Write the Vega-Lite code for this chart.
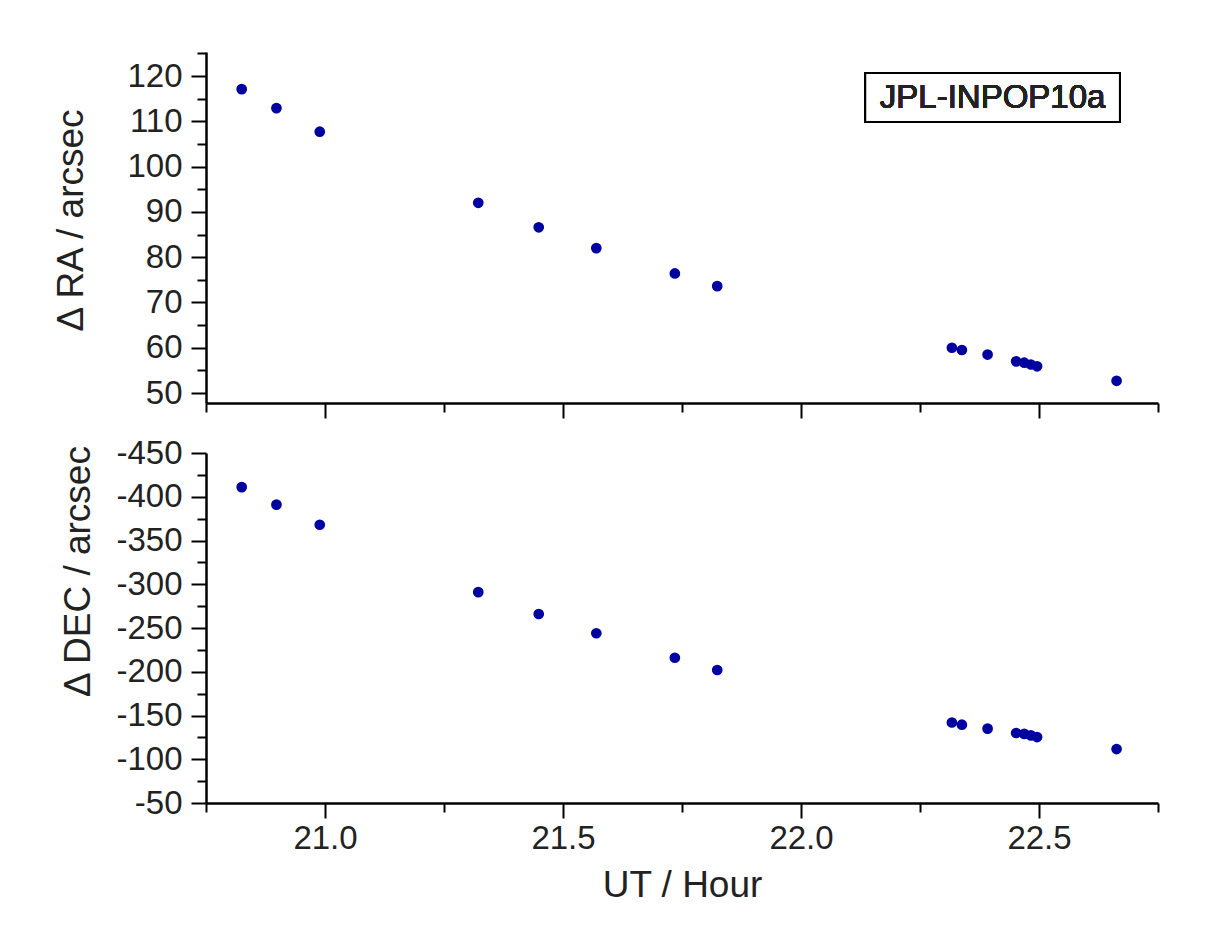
{
  "$schema": "https://vega.github.io/schema/vega-lite/v6.json",
  "background": "white",
  "padding": {"left": 52, "top": 52, "right": 10, "bottom": 10},
  "bounds": "flush",
  "spacing": 50,
  "data": {
    "values": [
      {"ut": 20.825, "ra": 117.1, "dec": -411.0},
      {"ut": 20.898, "ra": 112.9, "dec": -391.0},
      {"ut": 20.989, "ra": 107.7, "dec": -368.0},
      {"ut": 21.322, "ra": 92.0, "dec": -291.0},
      {"ut": 21.449, "ra": 86.6, "dec": -266.0},
      {"ut": 21.570, "ra": 82.0, "dec": -244.0},
      {"ut": 21.735, "ra": 76.4, "dec": -216.0},
      {"ut": 21.824, "ra": 73.6, "dec": -202.0},
      {"ut": 22.317, "ra": 60.0, "dec": -142.0},
      {"ut": 22.338, "ra": 59.5, "dec": -139.5},
      {"ut": 22.392, "ra": 58.5, "dec": -135.0},
      {"ut": 22.452, "ra": 57.0, "dec": -130.0},
      {"ut": 22.469, "ra": 56.7, "dec": -129.0},
      {"ut": 22.483, "ra": 56.3, "dec": -127.3},
      {"ut": 22.496, "ra": 55.9, "dec": -125.4},
      {"ut": 22.663, "ra": 52.7, "dec": -111.7}
    ]
  },
  "vconcat": [
    {
      "width": 952,
      "height": 351,
      "resolve": {"axis": {"x": "independent", "y": "independent"}},
      "layer": [
        {
          "mark": {"type": "point", "opacity": 0},
          "encoding": {
            "x": {"field": "ut", "type": "quantitative", "scale": {"domain": [20.75, 22.75], "nice": false, "zero": false},
                  "axis": {"orient": "bottom", "values": [20.75, 21.25, 21.75, 22.25, 22.75], "labels": false, "domain": false, "ticks": true, "tickSize": 9, "title": null}},
            "y": {"field": "ra", "type": "quantitative", "scale": {"domain": [47.8, 125.3], "nice": false, "zero": false},
                  "axis": {"orient": "left", "values": [55, 65, 75, 85, 95, 105, 115, 125], "labels": false, "domain": false, "ticks": true, "tickSize": 9, "title": null}}
          }
        },
        {
          "mark": {"type": "circle", "size": 115, "opacity": 1, "color": "#0000a0"},
          "encoding": {
            "x": {"field": "ut", "type": "quantitative",
                  "axis": {"orient": "bottom", "values": [21.0, 21.5, 22.0, 22.5], "labels": false, "domain": true, "ticks": true, "tickSize": 15, "title": null}},
            "y": {"field": "ra", "type": "quantitative",
                  "axis": {"orient": "left", "values": [50, 60, 70, 80, 90, 100, 110, 120], "domain": true, "ticks": true, "tickSize": 15, "labelPadding": 9,
                           "title": "Δ RA / arcsec", "titlePadding": 36, "titleY": 168}}
          }
        },
        {
          "mark": {"type": "rect", "fill": "white", "stroke": "black", "strokeWidth": 2},
          "encoding": {
            "x": {"datum": 22.135, "type": "quantitative", "axis": null},
            "x2": {"datum": 22.67},
            "y": {"datum": 120.66, "type": "quantitative", "axis": null},
            "y2": {"datum": 109.85}
          }
        },
        {
          "mark": {"type": "text", "text": "JPL-INPOP10a", "fontSize": 33, "font": "Liberation Sans", "fontWeight": "normal", "color": "#222222", "align": "center", "baseline": "middle"},
          "encoding": {
            "x": {"datum": 22.4025, "type": "quantitative", "axis": null},
            "y": {"datum": 115.2, "type": "quantitative", "axis": null}
          }
        }
      ]
    },
    {
      "width": 952,
      "height": 350,
      "resolve": {"axis": {"x": "independent", "y": "independent"}},
      "layer": [
        {
          "mark": {"type": "point", "opacity": 0},
          "encoding": {
            "x": {"field": "ut", "type": "quantitative", "scale": {"domain": [20.75, 22.75], "nice": false, "zero": false},
                  "axis": {"orient": "bottom", "values": [20.75, 21.25, 21.75, 22.25, 22.75], "labels": false, "domain": false, "ticks": true, "tickSize": 9, "title": null}},
            "y": {"field": "dec", "type": "quantitative", "scale": {"domain": [-450, -50], "nice": false, "zero": false, "reverse": true},
                  "axis": {"orient": "left", "values": [-425, -375, -325, -275, -225, -175, -125, -75], "labels": false, "domain": false, "ticks": true, "tickSize": 9, "title": null}}
          }
        },
        {
          "mark": {"type": "circle", "size": 115, "opacity": 1, "color": "#0000a0"},
          "encoding": {
            "x": {"field": "ut", "type": "quantitative",
                  "axis": {"orient": "bottom", "values": [21.0, 21.5, 22.0, 22.5], "format": ".1f", "labels": true, "domain": true, "ticks": true, "tickSize": 15, "labelPadding": 4,
                           "title": "UT / Hour", "titlePadding": 12}},
            "y": {"field": "dec", "type": "quantitative",
                  "axis": {"orient": "left", "values": [-450, -400, -350, -300, -250, -200, -150, -100, -50], "labelExpr": "'' + datum.value", "domain": true, "ticks": true, "tickSize": 15, "labelPadding": 9,
                           "title": "Δ DEC / arcsec", "titlePadding": 18, "titleY": 118}}
          }
        }
      ]
    }
  ],
  "config": {
    "view": {"stroke": null},
    "axis": {
      "grid": false,
      "domainColor": "black",
      "domainWidth": 2.5,
      "tickColor": "black",
      "tickWidth": 2,
      "labelFont": "Liberation Sans",
      "labelFontSize": 33,
      "labelColor": "#222222",
      "titleFont": "Liberation Sans",
      "titleFontSize": 37,
      "titleFontWeight": "normal",
      "titleColor": "#222222"
    }
  }
}
